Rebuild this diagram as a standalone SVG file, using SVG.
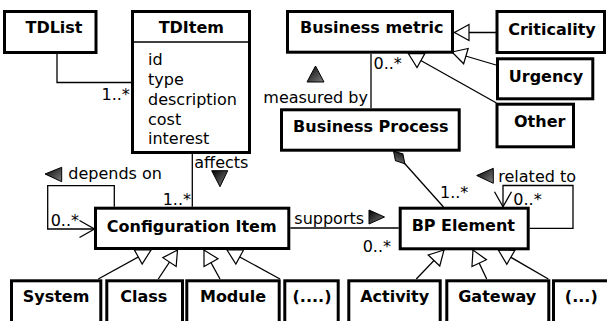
<svg xmlns="http://www.w3.org/2000/svg" width="607" height="321" viewBox="0 0 607 321">
<style>
.box{fill:#fff;stroke:#000;stroke-width:3}
.t{font-family:"DejaVu Sans","Liberation Sans",sans-serif;font-size:16px;fill:#000}
.b{font-weight:bold;text-anchor:middle}
.ln{fill:none;stroke:#000;stroke-width:1.3}
.gen{marker-end:url(#gen)}
.ind{fill:url(#g);stroke:#000;stroke-width:1}
</style>
<defs>
<linearGradient id="g" x1="0" y1="0" x2="1" y2="1">
<stop offset="0" stop-color="#000"/>
<stop offset="1" stop-color="#808080"/>
</linearGradient>
<marker id="gen" markerUnits="userSpaceOnUse" viewBox="-17 -10 19 20" refX="0" refY="0" markerWidth="19" markerHeight="20" orient="auto">
<path d="M0,0 L-14.5,-8 L-14.5,8 Z" fill="#fff" stroke="#000" stroke-width="1.2"/>
</marker>
<marker id="open" markerUnits="userSpaceOnUse" viewBox="-17 -10 19 20" refX="0" refY="0" markerWidth="19" markerHeight="20" orient="auto">
<path d="M-15,-8.5 L0,0 L-15,8.5" fill="none" stroke="#000" stroke-width="1.3"/>
</marker>
<marker id="dia" markerUnits="userSpaceOnUse" viewBox="-2 -7 21 14" refX="0" refY="0" markerWidth="21" markerHeight="14" orient="auto">
<path d="M0,0 L8.5,-5 L17,0 L8.5,5 Z" fill="url(#g)" stroke="#000" stroke-width="1"/>
</marker>
</defs>

<g id="connectors">
<polyline class="ln" points="57,54 57,82.5 131,82.5"/>
<line class="ln" x1="371" y1="53.7" x2="371" y2="108.3"/>
<line class="ln" x1="192.3" y1="154" x2="192.3" y2="206.7"/>
<polyline class="ln" points="114.3,206.7 114.3,185.7 47.7,185.7 47.7,229 94.5,229" marker-end="url(#open)"/>
<line class="ln" x1="290.3" y1="228" x2="398.7" y2="228"/>
<line class="ln" x1="393.5" y1="151" x2="443.5" y2="207" marker-start="url(#dia)"/>
<polyline class="ln" points="529.7,228.3 573,228.3 573,185.5 503,185.5 503,206.7" marker-end="url(#open)"/>
<line class="ln gen" x1="496" y1="32.5" x2="454.5" y2="32.5"/>
<line class="ln gen" x1="496" y1="65" x2="452" y2="52"/>
<line class="ln gen" x1="496.5" y1="103" x2="408.3" y2="53.5"/>
<line class="ln gen" x1="98.3" y1="279" x2="151" y2="250"/>
<line class="ln gen" x1="158.3" y1="279" x2="177.5" y2="250"/>
<line class="ln gen" x1="220" y1="279" x2="204" y2="250"/>
<line class="ln gen" x1="280" y1="279" x2="227" y2="250"/>
<line class="ln gen" x1="416.3" y1="279" x2="444" y2="250"/>
<line class="ln gen" x1="486.7" y1="279" x2="473" y2="250"/>
<line class="ln gen" x1="548.3" y1="279" x2="498.3" y2="250"/>
<polygon class="ind" points="307,82 324,82 315.5,66"/>
<polygon class="ind" points="211.7,170.7 227.7,170.7 220,186.7"/>
<polygon class="ind" points="45,174 61.7,167.3 61.7,181.7"/>
<polygon class="ind" points="369,210 369,224 384.5,217"/>
<polygon class="ind" points="476.7,175.5 493.3,168.3 493.3,183.3"/>
<text class="t" x="101.5" y="99.5">1..*</text>
<text class="t" x="263.3" y="103">measured by</text>
<text class="t" x="373.5" y="69">0..*</text>
<text class="t" x="194.3" y="168">affects</text>
<text class="t" x="162.7" y="205">1..*</text>
<text class="t" x="68.3" y="178.5">depends on</text>
<text class="t" x="50.7" y="226">0..*</text>
<text class="t" x="294.3" y="223.5">supports</text>
<text class="t" x="362.7" y="251.5">0..*</text>
<text class="t" x="440" y="198">1..*</text>
<text class="t" x="498.3" y="181.5">related to</text>
<text class="t" x="513.3" y="205">0..*</text>
</g>

<g id="tdlist"><rect class="box" x="4.5" y="11.5" width="91.5" height="41"/><text class="t b" x="54" y="33">TDList</text></g>
<g id="tditem"><rect class="box" x="132.5" y="11.5" width="117" height="141"/><line class="ln" x1="134" y1="42" x2="248" y2="42"/><text class="t b" x="191.3" y="33">TDItem</text>
<text class="t" x="148" y="65">id</text><text class="t" x="148" y="85">type</text><text class="t" x="148" y="104.5">description</text><text class="t" x="148" y="124.5">cost</text><text class="t" x="148" y="144">interest</text></g>
<g id="business-metric"><rect class="box" x="287.5" y="11.5" width="165" height="40.7"/><text class="t b" x="371.7" y="33">Business metric</text></g>
<g id="criticality"><rect class="box" x="497" y="11.5" width="107.5" height="41"/><text class="t b" x="552" y="34.5">Criticality</text></g>
<g id="urgency"><rect class="box" x="497.5" y="58.8" width="95.3" height="40"/><text class="t b" x="546" y="81.5">Urgency</text></g>
<g id="other"><rect class="box" x="497" y="104.2" width="76.5" height="42.6"/><text class="t b" x="539.7" y="127">Other</text></g>
<g id="business-process"><rect class="box" x="281.5" y="109.8" width="177.7" height="40.4"/><text class="t b" x="370.8" y="131.5">Business Process</text></g>
<g id="configuration-item"><rect class="box" x="95.5" y="208.2" width="193.3" height="40.3"/><text class="t b" x="191.7" y="231.5">Configuration Item</text></g>
<g id="bp-element"><rect class="box" x="400.2" y="208.2" width="128" height="40.6"/><text class="t b" x="463.3" y="231">BP Element</text></g>
<g id="system"><rect class="box" x="11.5" y="280.8" width="89.3" height="60"/><text class="t b" x="56" y="302">System</text></g>
<g id="class"><rect class="box" x="106.8" y="280.8" width="75.7" height="60"/><text class="t b" x="143.7" y="302">Class</text></g>
<g id="module"><rect class="box" x="186.8" y="280.8" width="92.4" height="60"/><text class="t b" x="233" y="302">Module</text></g>
<g id="ci-more"><rect class="box" x="284.8" y="280.8" width="53.4" height="60"/><text class="t b" x="312" y="302">(....)</text></g>
<g id="activity"><rect class="box" x="348.8" y="280.8" width="91.4" height="60"/><text class="t b" x="394.7" y="302">Activity</text></g>
<g id="gateway"><rect class="box" x="446.8" y="280.8" width="102" height="60"/><text class="t b" x="497.2" y="302">Gateway</text></g>
<g id="bp-more"><rect class="box" x="553.5" y="280.8" width="60" height="60"/><text class="t b" x="581.3" y="302">(...)</text></g>
</svg>
